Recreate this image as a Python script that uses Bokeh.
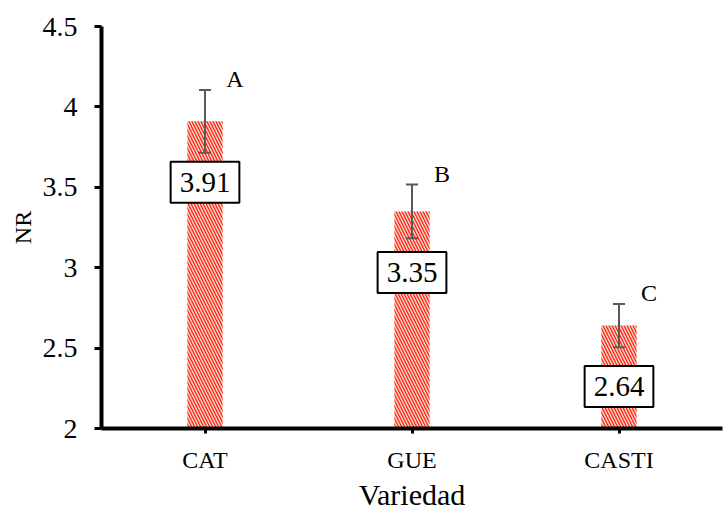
from bokeh.plotting import figure
from bokeh.models import (ColumnDataSource, Whisker, TeeHead, Label,
                          CustomJSTickFormatter, FixedTicker, FactorRange, Range1d)
from bokeh.core.properties import value
from bokeh.embed import file_html
from bokeh.resources import INLINE

# ---- data ----
categories = ["CAT", "GUE", "CASTI"]
means = [3.91, 3.35, 2.64]
errors = [0.195, 0.167, 0.135]
letters = ["A", "B", "C"]
value_labels = ["3.91", "3.35", "2.64"]
y_ticks = [2, 2.5, 3, 3.5, 4, 4.5]

FONT = "'Liberation Serif', 'Times New Roman', serif"

src = ColumnDataSource(dict(
    cat=categories,
    mean=means,
    lower=[m - e for m, e in zip(means, errors)],
    upper=[m + e for m, e in zip(means, errors)],
    letter=letters,
))

p = figure(x_range=FactorRange(*categories, range_padding=0),
           y_range=Range1d(2, 4.5),
           width=723, height=515,
           output_backend="svg", toolbar_location=None,
           min_border_left=101, min_border_right=1,
           min_border_top=26, min_border_bottom=87)
p.outline_line_color = None
p.xgrid.visible = False
p.ygrid.visible = False
p.background_fill_color = "white"
p.border_fill_color = "white"

p.vbar(x="cat", top="mean", bottom=2, width=0.17, source=src,
       fill_color="#fccdb6", line_color=None,
       hatch_pattern="\\", hatch_color="#ff1010", hatch_scale=6,
       hatch_weight=1.1)

w = Whisker(base="cat", lower="lower", upper="upper", source=src,
            line_color="#5a5a5a", line_width=2, level="overlay",
            upper_head=TeeHead(size=12, line_color="#5a5a5a", line_width=2),
            lower_head=TeeHead(size=12, line_color="#5a5a5a", line_width=2))
p.add_layout(w)

p.text(x="cat", y="upper", text="letter", source=src,
       x_offset=30, y_offset=-11, text_font=value(FONT),
       text_font_size="24px", text_align="center", text_baseline="middle",
       text_color="black")

# factor centres on the synthetic categorical axis are at i + 0.5
for i, (m, t) in enumerate(zip(means, value_labels)):
    p.add_layout(Label(x=i + 0.5, y=m, text=t, y_offset=-61,
                       text_font=FONT, text_font_size="29px",
                       text_color="black",
                       text_align="center", text_baseline="middle",
                       background_fill_color="white",
                       border_line_color="black", border_line_width=2,
                       padding=(9, 11), level="overlay"))

# axes
p.yaxis.ticker = FixedTicker(ticks=y_ticks)
p.yaxis.formatter = CustomJSTickFormatter(code="return tick.toString();")
p.yaxis.axis_line_width = 4
p.yaxis.axis_line_color = "black"
p.yaxis.major_tick_line_width = 3
p.yaxis.major_tick_out = 7
p.yaxis.major_tick_in = 0
p.yaxis.minor_tick_line_color = None
p.yaxis.major_label_text_font = FONT
p.yaxis.major_label_text_font_size = "28px"
p.yaxis.major_label_text_color = "#000000"
p.yaxis.major_label_standoff = 17
p.yaxis.axis_label = "NR"
p.yaxis.axis_label_text_font = FONT
p.yaxis.axis_label_text_font_size = "24px"
p.yaxis.axis_label_text_color = "#000000"
p.yaxis.axis_label_text_font_style = "normal"
p.yaxis.axis_label_standoff = 4

p.xaxis.axis_line_width = 4
p.xaxis.axis_line_color = "black"
p.xaxis.major_tick_line_width = 3
p.xaxis.major_tick_out = 5
p.xaxis.major_tick_in = 0
p.xaxis.major_label_text_font = FONT
p.xaxis.major_label_text_font_size = "24px"
p.xaxis.major_label_text_color = "#000000"
p.xaxis.major_label_standoff = 13
p.xaxis.axis_label = "Variedad"
p.xaxis.axis_label_text_font = FONT
p.xaxis.axis_label_text_font_size = "30px"
p.xaxis.axis_label_text_color = "#000000"
p.xaxis.axis_label_text_font_style = "normal"
p.xaxis.axis_label_standoff = 2

open("out.html", "w").write(file_html(p, INLINE))
